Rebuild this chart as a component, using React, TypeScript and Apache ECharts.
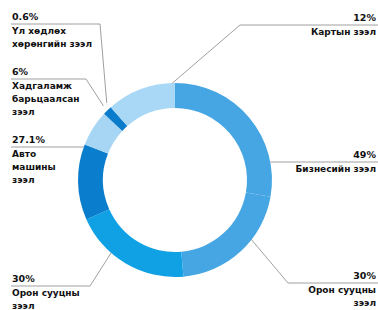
import React, { useEffect, useRef } from "react";
import * as echarts from "echarts";

// Loan types, clockwise from 12 o'clock
const categories = [
  "Бизнесийн зээл",
  "Орон сууцны зээл",
  "Орон сууцны зээл",
  "Авто машины зээл",
  "Хадгаламж барьцаалсан зээл",
  "Үл хөдлөх хөрөнгийн зээл",
  "Картын зээл",
];
// label text lines for each category
const nameLines = [
  ["Бизнесийн зээл"],
  ["Орон сууцны", "зээл"],
  ["Орон сууцны", "зээл"],
  ["Авто", "машины", "зээл"],
  ["Хадгаламж", "барьцаалсан", "зээл"],
  ["Үл хөдлөх", "хөрөнгийн зээл"],
  ["Картын зээл"],
];
// percentages printed on the labels
const labelPercents = ["49%", "30%", "30%", "27.1%", "6%", "0.6%", "12%"];
// slice sizes as drawn in the ring (degrees of arc)
const sliceShares = [100, 75, 71, 45.5, 21.5, 5.5, 41.5];

// styling / layout (not data)
const colors = ["#46a6e4", "#46a6e4", "#10a1e5", "#0b7dcd", "#a6d6f4", "#0b7bcb", "#a8d8f5"];
const CX = 175;
const CY = 180;
const labelLayoutCfg = [
  { side: "right", top: 146, lineY: 162, angle: 79.3, r: 97 },
  { side: "right", top: 267, lineY: 283, bendX: 288, angle: 127.7, r: 95 },
  { side: "left", top: 270, lineY: 286, bendX: 90, angle: 221.5, r: 94 },
  { side: "left", top: 131, lineY: 147, angle: 290, r: 97 },
  { side: "left", top: 63, lineY: 79, bendX: 86, angle: 316, r: 103 },
  { side: "left", top: 8, lineY: 24, bendX: 100, angle: 318.5, r: 103 },
  { side: "right", top: 9, lineY: 25, bendX: 240, angle: 357, r: 95 },
];

export default function App() {
  const ref = useRef<HTMLDivElement>(null);
  useEffect(() => {
    if (!ref.current) return;
    const chart = echarts.init(ref.current, null, { renderer: "svg" });
    const data = categories.map((name, i) => ({
      name,
      value: sliceShares[i],
      itemStyle: { color: colors[i] },
      label: {
        align: labelLayoutCfg[i].side,
        formatter: `{p|${labelPercents[i]}}\n{n|${nameLines[i].join("\n")}}`,
      },
    }));
    chart.setOption({
      animation: false,
      backgroundColor: "#ffffff",
      series: [
        {
          type: "pie",
          center: [CX, CY],
          radius: [72, 97],
          startAngle: 90,
          clockwise: true,
          avoidLabelOverlap: false,
          data,
          label: {
            show: true,
            position: "outside",
            color: "#111111",
            fontFamily: "DejaVu Sans",
            fontWeight: "bold",
            rich: {
              p: { fontSize: 9.5, fontWeight: "bold", lineHeight: 16, color: "#111111", fontFamily: "DejaVu Sans" },
              n: { fontSize: 9, fontWeight: "bold", lineHeight: 13, color: "#111111", fontFamily: "DejaVu Sans" },
            },
          },
          labelLine: {
            show: true,
            lineStyle: { color: "#a0a0a0", width: 1 },
          },
          emphasis: { disabled: true },
          labelLayout: (params: any) => {
            const c = labelLayoutCfg[params.dataIndex];
            const a = (c.angle * Math.PI) / 180;
            const ax = CX + c.r * Math.sin(a);
            const ay = CY - c.r * Math.cos(a);
            const bx = c.bendX !== undefined ? c.bendX : ax;
            const ex = c.side === "left" ? 11 : 378;
            return {
              x: c.side === "left" ? 12 : 376,
              y: c.top,
              align: c.side,
              verticalAlign: "top",
              labelLinePoints: [
                [ax, ay],
                [bx, c.lineY],
                [ex, c.lineY],
              ],
            };
          },
        },
      ],
    });
    return () => chart.dispose();
  }, []);
  return (
    <div
      ref={ref}
      style={{ position: "absolute", left: 0, top: 0, width: 378, height: 310 }}
    />
  );
}
